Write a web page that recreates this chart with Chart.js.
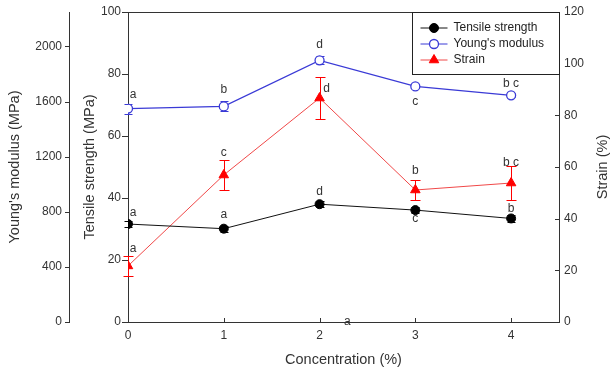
<!DOCTYPE html>
<html>
<head>
<meta charset="utf-8">
<script src="https://cdn.jsdelivr.net/npm/chart.js@4.4.0/dist/chart.umd.min.js"></script>
<style>
  html, body { margin: 0; padding: 0; background: #fff; }
</style>
</head>
<body>
<canvas id="chart" width="610" height="372"></canvas>
<script>
// values
const concentration = [0, 1, 2, 3, 4];
const tensileStrength = [31.6, 30.1, 38.0, 36.1, 33.4];
const tensileErr = [1, 1, 1, 1, 1];
const youngsModulus = [1549, 1565, 1899, 1710, 1645];
const youngsErr = [36, 36, 30, 15, 15];
const strain = [21.7, 56.9, 86.7, 51.1, 53.8];
const strainErr = [4, 5.8, 8, 4, 6.5];

// significance letters
const tensileLetters = ['a', 'a', 'd', 'c', 'b'];
const youngsLetters = ['a', 'b', 'd', 'c', 'b c'];
const strainLetters = ['a', 'c', 'd', 'b', 'b c'];
const strayLetter = 'a';

const xTicks = [0, 1, 2, 3, 4];
const tensileTicks = [0, 20, 40, 60, 80, 100];
const youngsTicks = [0, 400, 800, 1200, 1600, 2000];
const strainTicks = [0, 20, 40, 60, 80, 100, 120];

const FONT = '"Liberation Sans", Arial, sans-serif';
const TEXT = '#333';
const AXIS = '#333';
const BLUE = '#3a3ad6';
const RED = '#ff0000';

const pts = (ys) => concentration.map((x, i) => ({x: x, y: ys[i]}));
const setTicks = (list) => (s) => { s.ticks = list.map(v => ({value: v})); };
const plain = (v) => String(v);
const fitWidth = (w) => (s) => { s.width = w; s.paddingTop = 0; s.paddingBottom = 0; };

// label offsets (px) from each point
const letterOffsets = {
  yTS: [[5, -11], [0, -14], [0, -13], [0, 9], [0, -10]],
  yYM: [[5, -14], [0, -17], [0, -16], [0, 15], [0, -12]],
  yS: [[5, -17], [0, -22], [7, -9], [0, -19], [0, -20]]
};

function drawMarker(ctx, ds, x, y) {
  ctx.save();
  ctx.fillStyle = ds.pointBackgroundColor;
  ctx.strokeStyle = ds.pointBorderColor;
  ctx.lineWidth = ds.pointBorderWidth || 1;
  ctx.beginPath();
  if (ds.pointStyle === 'triangle') {
    const r = ds.pointRadius;
    ctx.moveTo(x, y - r);
    ctx.lineTo(x + r * 0.866, y + r * 0.5);
    ctx.lineTo(x - r * 0.866, y + r * 0.5);
    ctx.closePath();
  } else {
    ctx.arc(x, y, ds.pointRadius, 0, Math.PI * 2);
  }
  ctx.fill();
  ctx.stroke();
  ctx.restore();
}

const extras = {
  id: 'extras',
  beforeDatasetsDraw(chart) {
    const ctx = chart.ctx;
    chart.data.datasets.forEach((ds, di) => {
      const meta = chart.getDatasetMeta(di);
      const ys = chart.scales[ds.yAxisID];
      ctx.save();
      ctx.strokeStyle = ds.errColor;
      ctx.lineWidth = 1;
      meta.data.forEach((pt, i) => {
        const v = ds.data[i].y, e = ds.errors[i];
        const y1 = Math.round(ys.getPixelForValue(v + e)) + 0.5;
        const y2 = Math.round(ys.getPixelForValue(v - e)) + 0.5;
        const x = Math.round(pt.x) + 0.5;
        ctx.beginPath();
        ctx.moveTo(x, y1); ctx.lineTo(x, y2);
        ctx.moveTo(x - ds.capHalf, y1); ctx.lineTo(x + ds.capHalf, y1);
        ctx.moveTo(x - ds.capHalf, y2); ctx.lineTo(x + ds.capHalf, y2);
        ctx.stroke();
      });
      ctx.restore();
    });
  },
  afterDatasetsDraw(chart) {
    const ctx = chart.ctx;
    ctx.save();
    ctx.font = '12px ' + FONT;
    ctx.fillStyle = TEXT;
    ctx.textAlign = 'center';
    ctx.textBaseline = 'middle';
    chart.data.datasets.forEach((ds, di) => {
      const meta = chart.getDatasetMeta(di);
      const offs = letterOffsets[ds.yAxisID];
      meta.data.forEach((pt, i) => {
        ctx.fillText(ds.letters[i], pt.x + offs[i][0], pt.y + offs[i][1]);
      });
    });
    ctx.fillText(strayLetter, chart.scales.x.getPixelForValue(2.29), chart.chartArea.bottom);
    ctx.restore();
  },
  afterDraw(chart) {
    const ctx = chart.ctx;
    const a = chart.chartArea;
    ctx.save();
    ctx.strokeStyle = AXIS;
    ctx.lineWidth = 1;
    ctx.beginPath();
    // top frame line
    ctx.moveTo(a.left, Math.round(a.top) + 0.5);
    ctx.lineTo(a.right, Math.round(a.top) + 0.5);
    // tick marks
    const sx = chart.scales.x;
    xTicks.forEach(v => {
      const x = Math.round(sx.getPixelForValue(v)) + 0.5;
      ctx.moveTo(x, a.bottom); ctx.lineTo(x, a.bottom - 4);
    });
    const sts = chart.scales.yTS;
    tensileTicks.forEach(v => {
      const y = Math.round(sts.getPixelForValue(v)) + 0.5;
      ctx.moveTo(sts.right, y); ctx.lineTo(sts.right - 6, y);
    });
    const sym = chart.scales.yYM;
    youngsTicks.forEach(v => {
      const y = Math.round(sym.getPixelForValue(v)) + 0.5;
      ctx.moveTo(sym.right, y); ctx.lineTo(sym.right - 4, y);
    });
    const ss = chart.scales.yS;
    strainTicks.forEach(v => {
      const y = Math.round(ss.getPixelForValue(v)) + 0.5;
      ctx.moveTo(ss.left, y); ctx.lineTo(ss.left - 4, y);
    });
    ctx.stroke();

    // right axis title reads bottom to top, like the left ones
    ctx.save();
    ctx.translate(603, (a.top + a.bottom) / 2);
    ctx.rotate(-Math.PI / 2);
    ctx.font = '14.5px ' + FONT;
    ctx.fillStyle = TEXT;
    ctx.textAlign = 'center';
    ctx.textBaseline = 'middle';
    ctx.fillText('Strain (%)', 0, 0);
    ctx.restore();

    // legend box
    const w = 147, h = 62;
    const lx = Math.round(a.right - w) + 0.5, ly = Math.round(a.top) + 0.5;
    ctx.fillStyle = '#fff';
    ctx.fillRect(lx, ly, w, h);
    ctx.strokeStyle = '#222';
    ctx.strokeRect(lx, ly, w, h);
    ctx.font = '12px ' + FONT;
    ctx.textAlign = 'left';
    ctx.textBaseline = 'middle';
    chart.data.datasets.forEach((ds, i) => {
      const y = ly + 15.5 + i * 16;
      ctx.strokeStyle = ds.borderColor;
      ctx.lineWidth = 1;
      ctx.beginPath();
      ctx.moveTo(lx + 8, y); ctx.lineTo(lx + 35, y);
      ctx.stroke();
      drawMarker(ctx, ds, lx + 21.5, y);
      ctx.fillStyle = '#222';
      ctx.fillText(ds.label, lx + 41, y);
    });
    ctx.restore();
  }
};

const tickFont = {family: FONT, size: 12};
const titleFont = {family: FONT, size: 14.5, lineHeight: 1};

new Chart(document.getElementById('chart'), {
  type: 'line',
  data: {
    datasets: [
      {
        label: 'Tensile strength',
        data: pts(tensileStrength),
        yAxisID: 'yTS',
        borderColor: '#111',
        borderWidth: 1,
        pointStyle: 'circle',
        pointRadius: 4.5,
        pointBackgroundColor: '#000',
        pointBorderColor: '#000',
        pointBorderWidth: 1,
        errors: tensileErr,
        errColor: '#000',
        capHalf: 4,
        letters: tensileLetters
      },
      {
        label: "Young's modulus",
        data: pts(youngsModulus),
        yAxisID: 'yYM',
        borderColor: BLUE,
        borderWidth: 1.2,
        pointStyle: 'circle',
        pointRadius: 4.5,
        pointBackgroundColor: '#fff',
        pointBorderColor: BLUE,
        pointBorderWidth: 1.3,
        errors: youngsErr,
        errColor: BLUE,
        capHalf: 4,
        letters: youngsLetters
      },
      {
        label: 'Strain',
        data: pts(strain),
        yAxisID: 'yS',
        borderColor: '#f04848',
        borderWidth: 1,
        pointStyle: 'triangle',
        pointRadius: 5.5,
        pointBackgroundColor: RED,
        pointBorderColor: RED,
        pointBorderWidth: 1,
        errors: strainErr,
        errColor: RED,
        capHalf: 5,
        letters: strainLetters
      }
    ]
  },
  options: {
    responsive: false,
    animation: false,
    layout: {padding: {top: 12, right: 0, bottom: 0, left: 0}},
    plugins: {legend: {display: false}, tooltip: {enabled: false}},
    scales: {
      x: {
        type: 'linear', min: 0, max: 4.5,
        afterBuildTicks: setTicks(xTicks),
        afterFit: s => { s.height = 50; s.paddingLeft = 0; s.paddingRight = 0; },
        grid: {display: false, drawTicks: false},
        border: {color: AXIS, width: 1},
        ticks: {padding: 6, color: TEXT, font: tickFont, callback: plain},
        title: {display: true, text: 'Concentration (%)', color: TEXT, font: titleFont, padding: {top: 0, bottom: 5}}
      },
      yTS: {
        type: 'linear', position: 'left', weight: 0, min: 0, max: 100,
        afterBuildTicks: setTicks(tensileTicks),
        afterFit: fitWidth(59),
        grid: {display: false, drawTicks: false},
        border: {color: AXIS, width: 1},
        ticks: {padding: 7, color: TEXT, font: tickFont, callback: plain},
        title: {display: true, text: 'Tensile strength (MPa)', color: TEXT, font: titleFont, padding: {top: 14, bottom: 0}}
      },
      yYM: {
        type: 'linear', position: 'left', weight: 1, min: 0, max: 2250,
        afterBuildTicks: setTicks(youngsTicks),
        afterFit: fitWidth(69),
        grid: {display: false, drawTicks: false},
        border: {color: AXIS, width: 1},
        ticks: {padding: 7, color: TEXT, font: tickFont, callback: plain},
        title: {display: true, text: "Young's modulus (MPa)", color: TEXT, font: titleFont, padding: {top: 8, bottom: 0}}
      },
      yS: {
        type: 'linear', position: 'right', min: 0, max: 120,
        afterBuildTicks: setTicks(strainTicks),
        afterFit: fitWidth(51),
        grid: {display: false, drawTicks: false},
        border: {color: AXIS, width: 1},
        ticks: {padding: 5, color: TEXT, font: tickFont, callback: plain},
        title: {display: false}
      }
    }
  },
  plugins: [extras]
});
</script>
</body>
</html>
